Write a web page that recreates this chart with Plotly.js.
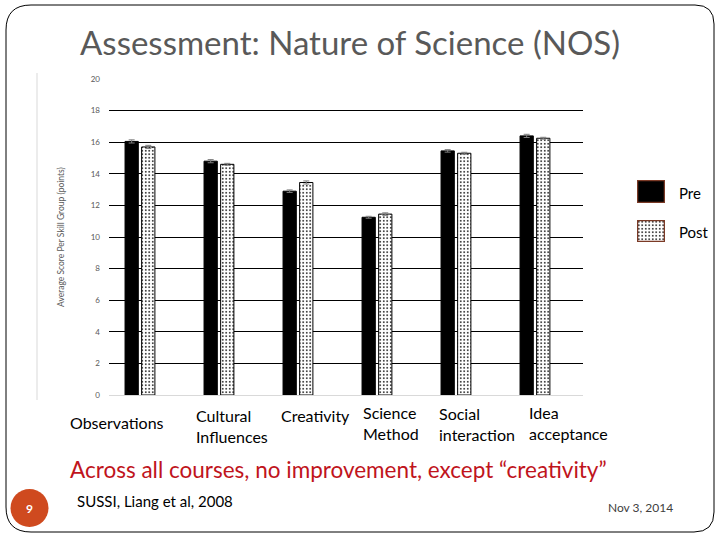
<!DOCTYPE html>
<html>
<head>
<meta charset="utf-8">
<script src="https://cdn.plot.ly/plotly-3.0.1.min.js"></script>
<style>
body { margin: 0; background: #fff; }
#plot { width: 720px; height: 540px; }
</style>
</head>
<body>
<div id="plot"></div>
<script>
let categories = ['Observations', 'Cultural Influences', 'Creativity', 'Science Method', 'Social interaction', 'Idea acceptance'];
let categoryLabels = ['Observations', 'Cultural<br>Influences', 'Creativity', 'Science<br>Method', 'Social<br>interaction', 'Idea<br>acceptance'];
let preScores = [16.05, 14.8, 12.9, 11.25, 15.45, 16.4];
let postScores = [15.7, 14.6, 13.45, 11.45, 15.3, 16.25];
let preErrors = [0.1, 0.1, 0.08, 0.06, 0.08, 0.1];
let postErrors = [0.1, 0.06, 0.1, 0.08, 0.06, 0.06];
let seriesNames = ['Pre', 'Post'];

// page is 720x540 with zero margins, so paper coords map straight from pixels
let X = px => px / 720;
let Y = py => 1 - py / 540;

let font = 'Lato, "Open Sans", sans-serif';
let dots = {shape: '.', fgcolor: '#000', bgcolor: '#fff', size: 3.5, solidity: 0.18};

let preTrace = {
    x: categories,
    y: preScores,
    name: seriesNames[0],
    type: 'bar',
    marker: {color: '#000', line: {color: '#000', width: 1}},
    error_y: {type: 'data', array: preErrors, color: '#7f7f7f', thickness: 1, width: 3}
};

let postTrace = {
    x: categories,
    y: postScores,
    name: seriesNames[1],
    type: 'bar',
    marker: {color: '#fff', line: {color: '#000', width: 1}, pattern: dots},
    error_y: {type: 'data', array: postErrors, color: '#7f7f7f', thickness: 1, width: 3}
};

// legend swatches drawn as single bars on their own tiny axes
let preKey = {
    x: [seriesNames[0]], y: [1], type: 'bar', width: 1, xaxis: 'x2', yaxis: 'y2', cliponaxis: false,
    marker: {color: '#000', line: {color: '#7b3a26', width: 2.5}}
};
let postKey = {
    x: [seriesNames[1]], y: [1], type: 'bar', width: 1, xaxis: 'x3', yaxis: 'y3', cliponaxis: false,
    marker: {color: '#fff', line: {color: '#7b3a26', width: 2.5}, pattern: dots}
};

let hidden = {showgrid: false, zeroline: false, showticklabels: false, ticks: '', fixedrange: true};

// label positions in pixels: [left x, middle y]
let labelPos = [[68, 422], [194, 426], [279, 415], [361, 423], [437, 423.5], [527, 423]];

let annotations = categoryLabels.map((t, i) => ({
    text: t, xref: 'paper', yref: 'paper', x: X(labelPos[i][0]), y: Y(labelPos[i][1]),
    xanchor: 'left', yanchor: 'middle', align: 'left', showarrow: false,
    font: {family: font, size: 16, color: '#000'}
}));

annotations.push(
    {text: 'Assessment: Nature of Science (NOS)', xref: 'paper', yref: 'paper', x: X(350), y: Y(42),
     xanchor: 'center', yanchor: 'middle', showarrow: false, font: {family: font, size: 33, color: '#595959'}},
    {text: 'Average Score Per Skill Group (points)', xref: 'paper', yref: 'paper', x: X(61), y: Y(237),
     textangle: -90, xanchor: 'center', yanchor: 'middle', showarrow: false, font: {family: font, size: 8.5, color: '#595959'}},
    {text: seriesNames[0], xref: 'paper', yref: 'paper', x: X(677), y: Y(193),
     xanchor: 'left', yanchor: 'middle', showarrow: false, font: {family: font, size: 15, color: '#000'}},
    {text: seriesNames[1], xref: 'paper', yref: 'paper', x: X(677), y: Y(232),
     xanchor: 'left', yanchor: 'middle', showarrow: false, font: {family: font, size: 15, color: '#000'}},
    {text: 'Across all courses, no improvement, except \u201ccreativity\u201d', xref: 'paper', yref: 'paper', x: X(68), y: Y(469),
     xanchor: 'left', yanchor: 'middle', showarrow: false, font: {family: font, size: 22.5, color: '#c0141c'}},
    {text: 'SUSSI, Liang et al, 2008', xref: 'paper', yref: 'paper', x: X(75), y: Y(501),
     xanchor: 'left', yanchor: 'middle', showarrow: false, font: {family: font, size: 15, color: '#000'}},
    {text: 'Nov 3, 2014', xref: 'paper', yref: 'paper', x: X(606), y: Y(507),
     xanchor: 'left', yanchor: 'middle', showarrow: false, font: {family: font, size: 12, color: '#404040'}},
    {text: '<b>9</b>', xref: 'paper', yref: 'paper', x: X(29.5), y: Y(508),
     xanchor: 'center', yanchor: 'middle', showarrow: false, font: {family: font, size: 12, color: '#fff'}}
);

// rounded slide frame
let L = 6, T = 5, R = 714, B = 532;
let frame = 'M' + X(L + 25) + ',' + Y(T) +
    ' L' + X(R - 19) + ',' + Y(T) + ' Q' + X(R) + ',' + Y(T) + ' ' + X(R) + ',' + Y(T + 19) +
    ' L' + X(R) + ',' + Y(B - 20) + ' Q' + X(R) + ',' + Y(B) + ' ' + X(R - 20) + ',' + Y(B) +
    ' L' + X(L + 25) + ',' + Y(B) + ' Q' + X(L) + ',' + Y(B) + ' ' + X(L) + ',' + Y(B - 25) +
    ' L' + X(L) + ',' + Y(T + 25) + ' Q' + X(L) + ',' + Y(T) + ' ' + X(L + 25) + ',' + Y(T) + ' Z';

let shapes = [
    {type: 'path', xref: 'paper', yref: 'paper', path: frame, line: {color: '#000', width: 1}},
    {type: 'line', xref: 'paper', yref: 'paper', x0: X(37), x1: X(37), y0: Y(400), y1: Y(73), line: {color: '#d9d9d9', width: 1}},
    {type: 'circle', xref: 'paper', yref: 'paper', x0: X(10.5), x1: X(48.5), y0: Y(527), y1: Y(489),
     fillcolor: '#cf4a1f', line: {width: 0}}
];

let layout = {
    width: 720,
    height: 540,
    margin: {l: 0, r: 0, t: 0, b: 0, pad: 0},
    paper_bgcolor: '#fff',
    plot_bgcolor: 'rgba(0,0,0,0)',
    showlegend: false,
    barmode: 'group',
    bargap: 0.58,
    bargroupgap: 0.2,
    font: {family: font},
    xaxis: Object.assign({}, hidden, {
        domain: [X(109), X(583)],
        type: 'category',
        range: [-0.392, 5.608]
    }),
    yaxis: {
        domain: [Y(395), Y(79)],
        range: [0, 20],
        dtick: 2,
        showgrid: true,
        gridcolor: '#000',
        gridwidth: 1,
        zeroline: true,
        zerolinecolor: '#d9d9d9',
        zerolinewidth: 1,
        showline: false,
        ticks: '',
        ticklabelstandoff: 8,
        tickfont: {family: font, size: 8, color: '#595959'},
        fixedrange: true
    },
    xaxis2: Object.assign({}, hidden, {domain: [X(637), X(665)], anchor: 'y2', type: 'category', range: [-0.5, 0.5]}),
    yaxis2: Object.assign({}, hidden, {domain: [Y(203), Y(180)], anchor: 'x2', range: [0, 1]}),
    xaxis3: Object.assign({}, hidden, {domain: [X(637), X(665)], anchor: 'y3', type: 'category', range: [-0.5, 0.5]}),
    yaxis3: Object.assign({}, hidden, {domain: [Y(242), Y(220)], anchor: 'x3', range: [0, 1]}),
    annotations: annotations,
    shapes: shapes
};

Plotly.newPlot('plot', [preTrace, postTrace, preKey, postKey], layout, {displayModeBar: false, staticPlot: true});
</script>
</body>
</html>
